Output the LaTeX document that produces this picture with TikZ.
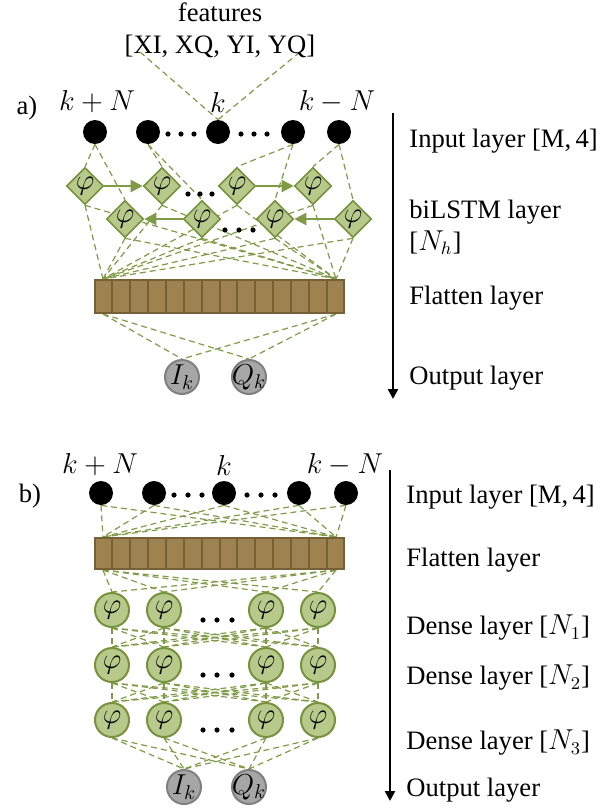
\documentclass[tikz,border=0pt]{standalone}
\usepackage{fontspec}
\setmainfont{Liberation Serif}
\usetikzlibrary{shapes.geometric,arrows.meta,calc,backgrounds}
\definecolor{lgreen}{RGB}{128,155,70}
\definecolor{dgreen}{RGB}{118,146,60}
\definecolor{fgreen}{RGB}{183,202,140}
\definecolor{bfill}{RGB}{158,130,80}
\definecolor{bbord}{RGB}{118,96,56}
\definecolor{gfill}{RGB}{166,166,166}
\definecolor{gbord}{RGB}{128,128,128}
\tikzset{
  inp/.style={circle,fill=black,minimum size=12pt,inner sep=0pt},
  lstm/.style={diamond,draw=dgreen,fill=fgreen,line width=0.8pt,minimum size=18.5pt,inner sep=0pt,font=\fontsize{15}{15}\selectfont},
  neur/.style={circle,draw=dgreen,fill=fgreen,line width=1pt,minimum size=17pt,inner sep=-2pt,font=\fontsize{15}{15}\selectfont},
  outn/.style={circle,draw=gbord,fill=gfill,line width=1pt,minimum size=17pt,inner sep=-2.5pt,font=\fontsize{14}{14}\selectfont},
  conn/.style={lgreen,dash pattern=on 3pt off 2pt,line width=0.6pt},
  rec/.style={lgreen,line width=1.1pt,-{Triangle[length=6pt,width=6pt]}},
  lbl/.style={anchor=west,inner sep=0pt},
  barst/.style={rectangle,draw=bbord,fill=bfill,line width=1pt,minimum width=124.5pt,inner sep=0pt},
  dotst/.style={fill=black},
  axis/.style={black,line width=1.2pt,-{Triangle[length=5pt,width=5pt]}},
  klbl/.style={font=\fontsize{13.5}{15}\selectfont}
}
\begin{document}
\begin{tikzpicture}[x=0.5pt,y=-0.5pt,font=\fontsize{13.3}{16}\selectfont]
\useasboundingbox (0,0) rectangle (615,809);

% ================= (a) =================
\node[align=center,inner sep=0pt] (feat) at (220,30) {features\\{[}XI, XQ, YI, YQ{]}};
\coordinate (fL) at (140,52);
\coordinate (fR) at (300,52);
\node (la) at (27,108) {a)};
\node[klbl] (ka1) at (97,102) {$k+N$};
\node[klbl] (ka3) at (218,102) {$k$};
\node[klbl] (ka5) at (337,102) {$k-N$};

\node[inp] (a1) at (95,132) {};
\node[inp] (a2) at (148,132) {};
\node[inp] (a3) at (218,132) {};
\node[inp] (a4) at (293,132) {};
\node[inp] (a5) at (339,132) {};
\foreach \x in {168,181,194,241,254,267} \fill[dotst] (\x,134) circle (1.3pt);

\node[lstm] (d11) at (85,186) {$\varphi$};
\node[lstm] (d12) at (162,186) {$\varphi$};
\node[lstm] (d13) at (237,186) {$\varphi$};
\node[lstm] (d14) at (313,186) {$\varphi$};
\node[lstm] (d21) at (125,219) {$\varphi$};
\node[lstm] (d22) at (202,219) {$\varphi$};
\node[lstm] (d23) at (275,219) {$\varphi$};
\node[lstm] (d24) at (353,219) {$\varphi$};
\foreach \x in {188,200,212} \fill[dotst] (\x,194) circle (1.3pt);
\foreach \x in {225,239,253} \fill[dotst] (\x,230) circle (1.3pt);

\draw[rec] (d11) -- (d12);
\draw[rec] (d13) -- (d14);
\draw[rec] (d22) -- (d21);
\draw[rec] (d24) -- (d23);

\node[barst,minimum height=16.5pt] (barA) at (219.5,296.5) {};
\foreach \i in {1,...,13}
  \draw[bbord,line width=1pt] ($(barA.north west)!\i/14!(barA.north east)$) -- ($(barA.south west)!\i/14!(barA.south east)$);
\coordinate (aTL) at ($(barA.north west)!1/28!(barA.north east)$);
\coordinate (aTR) at ($(barA.north west)!27/28!(barA.north east)$);
\coordinate (aBL) at ($(barA.south west)!1/28!(barA.south east)$);
\coordinate (aBR) at ($(barA.south west)!27/28!(barA.south east)$);

\node[outn] (oIa) at (182,377) {$I_k$};
\node[outn] (oQa) at (249,377) {$Q_k$};

\begin{scope}[on background layer]
  \draw[conn] (fL) -- (a3.north);
  \draw[conn] (fR) -- (a3.north);
  \draw[conn] (a1.south) -- (d11.north);
  \draw[conn] (a1.south) -- (d21.north);
  \draw[conn] (a2.south) -- (d12.north);
  \draw[conn] (a2.south) -- (d22.north);
  \draw[conn] (a4.south) -- (d13.north);
  \draw[conn] (a4.south) -- (d23.north);
  \draw[conn] (a5.south) -- (d14.north);
  \draw[conn] (a5.south) -- (d24.north);
  \foreach \d in {d11,d12,d13,d14,d21,d22,d23,d24} {
    \draw[conn] (\d.south) -- (aTL);
    \draw[conn] (\d.south) -- (aTR);
  }
  \foreach \o in {oIa,oQa} {
    \draw[conn] (aBL) -- (\o.north);
    \draw[conn] (aBR) -- (\o.north);
  }
\end{scope}

\coordinate (axAt) at (393,113);
\coordinate (axAb) at (393,399);
\draw[axis] (axAt) -- (axAb);
\node[lbl] (tA1) at (409,141) {Input layer [M,\,4]};
\node[lbl,align=left] (tA2) at (409,227) {biLSTM layer\\{[}$N_h${]}};
\node[lbl] (tA3) at (409,298) {Flatten layer};
\node[lbl] (tA4) at (409,378) {Output layer};

% ================= (b) =================
\node (lb) at (30,496) {b)};
\node[klbl] (kb1) at (100,465) {$k+N$};
\node[klbl] (kb3) at (224,465) {$k$};
\node[klbl] (kb5) at (345,465) {$k-N$};

\node[inp] (b1) at (101,493) {};
\node[inp] (b2) at (154,493) {};
\node[inp] (b3) at (224,493) {};
\node[inp] (b4) at (299,493) {};
\node[inp] (b5) at (346,493) {};
\foreach \x in {174,188,202,247,261,275} \fill[dotst] (\x,495) circle (1.3pt);

\node[barst,minimum height=15.5pt] (barB) at (219.5,553.5) {};
\foreach \i in {1,...,13}
  \draw[bbord,line width=1pt] ($(barB.north west)!\i/14!(barB.north east)$) -- ($(barB.south west)!\i/14!(barB.south east)$);
\coordinate (bTL) at ($(barB.north west)!1/28!(barB.north east)$);
\coordinate (bTR) at ($(barB.north west)!27/28!(barB.north east)$);
\coordinate (bBL) at ($(barB.south west)!1/28!(barB.south east)$);
\coordinate (bBR) at ($(barB.south west)!27/28!(barB.south east)$);

\foreach \r/\y in {1/610,2/665,3/720} {
  \node[neur] (n\r1) at (112,\y) {$\varphi$};
  \node[neur] (n\r2) at (164,\y) {$\varphi$};
  \node[neur] (n\r3) at (266,\y) {$\varphi$};
  \node[neur] (n\r4) at (318,\y) {$\varphi$};
  \foreach \x in {203,217,232} \fill[dotst] (\x,\y+10) circle (1.3pt);
}

\node[outn] (oIb) at (184,787) {$I_k$};
\node[outn] (oQb) at (249,787) {$Q_k$};

\begin{scope}[on background layer]
  \foreach \i in {b1,b2,b3,b4,b5} {
    \draw[conn] (\i.south) -- (bTL);
    \draw[conn] (\i.south) -- (bTR);
  }
  \foreach \j in {1,...,4} {
    \draw[conn] (bBL) -- (n1\j.north);
    \draw[conn] (bBR) -- (n1\j.north);
  }
  \foreach \i in {1,...,4} {
    \foreach \j in {1,...,4} {
      \draw[conn] (n1\i.south) -- (n2\j.north);
      \draw[conn] (n2\i.south) -- (n3\j.north);
    }
    \draw[conn] (n3\i.south) -- (oIb.north);
    \draw[conn] (n3\i.south) -- (oQb.north);
  }
\end{scope}

\coordinate (axBt) at (390,470);
\coordinate (axBb) at (390,801);
\draw[axis] (axBt) -- (axBb);
\node[lbl] (tB1) at (406,497) {Input layer [M,\,4]};
\node[lbl] (tB2) at (406,560) {Flatten layer};
\node[lbl] (tB3) at (406,628) {Dense layer [$N_1$]};
\node[lbl] (tB4) at (406,678) {Dense layer [$N_2$]};
\node[lbl] (tB5) at (406,743) {Dense layer [$N_3$]};
\node[lbl] (tB6) at (406,790) {Output layer};
\end{tikzpicture}
\end{document}
